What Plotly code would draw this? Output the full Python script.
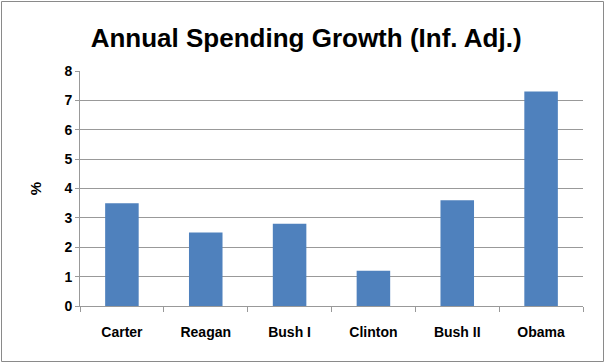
import plotly.graph_objects as go

categories = ["Carter", "Reagan", "Bush I", "Clinton", "Bush II", "Obama"]
growth = [3.5, 2.5, 2.8, 1.2, 3.6, 7.3]
y_ticks = [0, 1, 2, 3, 4, 5, 6, 7, 8]

W, H = 605, 363
L, R, T, B = 80, 22, 71, 57
pw, ph = W - L - R, H - T - B

def px_x(x):
    return (x - L) / pw

def px_y(y):
    return (H - B - y) / ph

fig = go.Figure(go.Bar(x=categories, y=growth, marker_color="#4F81BD",
                       marker_line_width=0))

fig.update_layout(
    width=W, height=H,
    margin=dict(l=L, r=R, t=T, b=B),
    paper_bgcolor="white", plot_bgcolor="white",
    bargap=0.6,
    showlegend=False,
    font=dict(family="Liberation Sans, Arial, sans-serif", color="black"),
    title=dict(text="Annual Spending Growth (Inf. Adj.)", x=0.506, xanchor="center",
               y=1 - 38 / H, yanchor="middle", yref="container",
               font=dict(size=26, weight="bold",
                         family="Liberation Sans, Arial, sans-serif", color="black")),
    shapes=[dict(type="rect", xref="paper", yref="paper",
                 x0=px_x(1.5), x1=px_x(603.5), y0=px_y(361.5), y1=px_y(1.5),
                 line=dict(color="#8a8a8a", width=1), layer="below")],
)

fig.update_yaxes(range=[0, 8], tickvals=y_ticks, showgrid=True, gridcolor="#999999",
                 gridwidth=1, showline=True, linecolor="#999999", linewidth=1,
                 ticks="outside", ticklen=4, tickcolor="#999999",
                 tickfont=dict(size=14, weight="bold"), zeroline=False,
                 title=dict(text="%", font=dict(size=15, weight="bold"), standoff=19))
fig.update_xaxes(showline=True, linecolor="#999999", linewidth=1,
                 ticks="outside", tickson="boundaries", ticklen=5, tickcolor="#999999",
                 ticklabelstandoff=13,
                 tickfont=dict(size=14, weight="bold"), showgrid=False)

fig.write_html("out.html", config={"displayModeBar": False},
               post_script="document.body.style.margin='0';document.body.style.padding='0';")
